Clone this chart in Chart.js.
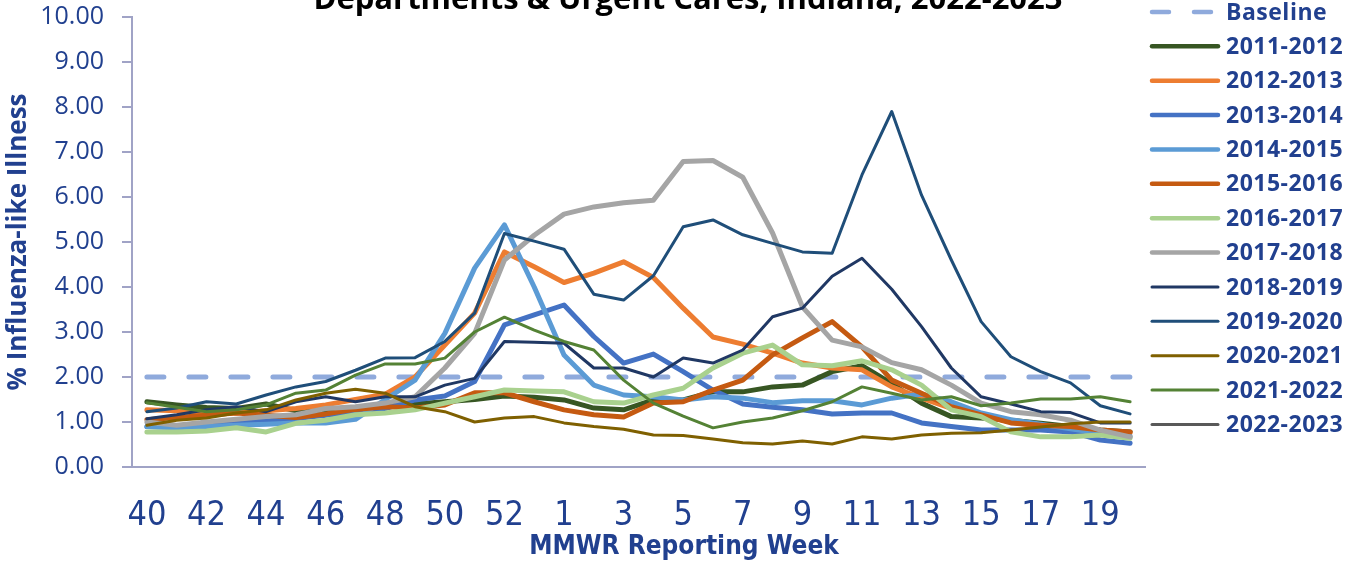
<!DOCTYPE html>
<html>
<head>
<meta charset="utf-8">
<script src="https://cdn.jsdelivr.net/npm/chart.js@4"></script>
<style>
    html, body { margin: 0; padding: 0; background: #ffffff; }
    #box { width: 1345px; height: 562px; position: relative; }
</style>
</head>
<body>
<div id="box"><canvas id="grafico"></canvas></div>
<script>
// semanas MMWR (40..53, depois 1..20)
const weeks = ['40', '41', '42', '43', '44', '45', '46', '47', '48', '49', '50', '51', '52', '53',
    '1', '2', '3', '4', '5', '6', '7', '8', '9', '10', '11', '12', '13', '14', '15', '16', '17', '18', '19', '20']

const yTicks = [0, 1, 2, 3, 4, 5, 6, 7, 8, 9, 10]

const baseline = [2.00, 2.00, 2.00, 2.00, 2.00, 2.00, 2.00, 2.00, 2.00, 2.00, 2.00, 2.00, 2.00, 2.00, 2.00, 2.00, 2.00,
    2.00, 2.00, 2.00, 2.00, 2.00, 2.00, 2.00, 2.00, 2.00, 2.00, 2.00, 2.00, 2.00, 2.00, 2.00, 2.00, 2.00]
const s2011 = [1.45, 1.38, 1.32, 1.30, 1.40, 1.25, 1.25, 1.30, 1.38, 1.40, 1.45, 1.50, 1.58, 1.55, 1.49, 1.31, 1.27,
    1.49, 1.49, 1.67, 1.67, 1.78, 1.82, 2.12, 2.25, 1.85, 1.42, 1.12, 1.09, 1.04, 0.97, 0.90, 0.82, 0.78]
const s2012 = [1.27, 1.25, 1.22, 1.20, 1.25, 1.30, 1.38, 1.50, 1.62, 2.00, 2.71, 3.42, 4.78, 4.45, 4.10, 4.31, 4.56,
    4.21, 3.53, 2.89, 2.73, 2.53, 2.31, 2.20, 2.16, 1.78, 1.53, 1.30, 1.15, 1.00, 0.90, 0.82, 0.78, 0.75]
const s2013 = [0.90, 0.88, 0.92, 0.98, 1.02, 1.08, 1.15, 1.22, 1.30, 1.49, 1.58, 1.90, 3.16, 3.38, 3.60, 2.90, 2.31,
    2.51, 2.12, 1.71, 1.40, 1.33, 1.27, 1.18, 1.20, 1.20, 0.98, 0.90, 0.82, 0.82, 0.82, 0.78, 0.60, 0.53]
const s2014 = [0.90, 0.88, 0.90, 0.93, 0.95, 0.98, 0.98, 1.06, 1.50, 1.93, 2.97, 4.42, 5.38, 4.00, 2.49, 1.82, 1.60,
    1.56, 1.49, 1.56, 1.53, 1.43, 1.47, 1.47, 1.38, 1.53, 1.62, 1.45, 1.20, 1.05, 0.95, 0.85, 0.75, 0.68]
const s2015 = [1.05, 1.10, 1.15, 1.20, 1.15, 1.10, 1.18, 1.28, 1.34, 1.31, 1.38, 1.65, 1.65, 1.45, 1.27, 1.16, 1.11,
    1.42, 1.45, 1.71, 1.93, 2.49, 2.87, 3.23, 2.67, 1.93, 1.64, 1.34, 1.16, 0.98, 0.93, 0.90, 0.82, 0.78]
const s2016 = [0.78, 0.78, 0.80, 0.87, 0.78, 0.97, 1.04, 1.16, 1.20, 1.27, 1.42, 1.56, 1.71, 1.69, 1.67, 1.45, 1.42,
    1.60, 1.75, 2.20, 2.53, 2.71, 2.27, 2.25, 2.36, 2.16, 1.82, 1.27, 1.12, 0.78, 0.67, 0.67, 0.71, 0.64]
const s2017 = [1.00, 0.93, 1.00, 1.06, 1.12, 1.16, 1.30, 1.34, 1.42, 1.56, 2.20, 2.97, 4.60, 5.15, 5.62, 5.78, 5.87,
    5.93, 6.79, 6.81, 6.44, 5.20, 3.56, 2.82, 2.67, 2.32, 2.16, 1.82, 1.42, 1.23, 1.16, 1.04, 0.82, 0.67]
const s2018 = [1.07, 1.16, 1.27, 1.34, 1.23, 1.45, 1.56, 1.45, 1.56, 1.56, 1.82, 1.97, 2.79, 2.77, 2.75, 2.20, 2.20,
    2.00, 2.42, 2.31, 2.60, 3.34, 3.53, 4.24, 4.64, 3.95, 3.12, 2.20, 1.56, 1.40, 1.23, 1.21, 0.98, 0.98]
const s2019 = [1.23, 1.31, 1.45, 1.40, 1.60, 1.78, 1.90, 2.15, 2.42, 2.43, 2.79, 3.42, 5.19, 5.02, 4.84, 3.84, 3.71,
    4.25, 5.34, 5.49, 5.16, 4.97, 4.78, 4.75, 6.49, 7.90, 6.04, 4.60, 3.23, 2.45, 2.12, 1.87, 1.36, 1.18]
const s2020 = [0.93, 1.04, 1.09, 1.20, 1.27, 1.49, 1.64, 1.73, 1.64, 1.34, 1.23, 1.00, 1.09, 1.12, 0.98, 0.90, 0.84,
    0.71, 0.70, 0.62, 0.54, 0.51, 0.58, 0.51, 0.67, 0.62, 0.71, 0.75, 0.76, 0.82, 0.89, 0.96, 1.00, 1.00]
const s2021 = [1.43, 1.33, 1.23, 1.27, 1.38, 1.64, 1.71, 2.04, 2.29, 2.29, 2.42, 3.00, 3.33, 3.04, 2.79, 2.60, 1.93,
    1.42, 1.13, 0.87, 1.00, 1.09, 1.25, 1.45, 1.78, 1.64, 1.49, 1.56, 1.36, 1.42, 1.51, 1.51, 1.56, 1.45]
const s2022 = []   // temporada atual ainda sem dados no gráfico

const azulTexto = '#21408f'
const corEixo = '#a0a3c6'

function serie(label, data, cor, largura) {
    return {
        label: label,
        data: data,
        borderColor: cor,
        backgroundColor: cor,
        borderWidth: largura,
        pointRadius: 0,
        tension: 0,
        fill: false,
        borderJoinStyle: 'round',
        borderCapStyle: 'round',
    }
}

const datasets = [
    Object.assign(serie('Baseline', baseline, '#8faadc', 5), { borderDash: [17, 25] }),
    serie('2011-2012', s2011, '#375623', 5),
    serie('2012-2013', s2012, '#ed7d31', 5),
    serie('2013-2014', s2013, '#4472c4', 5),
    serie('2014-2015', s2014, '#5b9bd5', 5),
    serie('2015-2016', s2015, '#c55a11', 5),
    serie('2016-2017', s2016, '#a9d18e', 5),
    serie('2017-2018', s2017, '#a5a5a5', 5),
    serie('2018-2019', s2018, '#203864', 3),
    serie('2019-2020', s2019, '#1f4e79', 3),
    serie('2020-2021', s2020, '#7f6000', 3),
    serie('2021-2022', s2021, '#548235', 3),
    serie('2022-2023', s2022, '#595959', 3),
]
// como no Excel: a última série fica por cima
datasets.forEach((d, i) => { d.order = datasets.length - i })

// título cortado, legenda e título do eixo X
const textos = {
    id: 'textos',
    afterDraw(chart) {
        const ctx = chart.ctx
        ctx.save()

        ctx.fillStyle = '#000000'
        ctx.font = 'bold 31px "Open Sans"'
        ctx.textAlign = 'center'
        ctx.textBaseline = 'alphabetic'
        ctx.fillText('Departments & Urgent Cares, Indiana, 2022-2023', 688, 9)

        ctx.fillStyle = azulTexto
        ctx.font = 'bold 26px "Liberation Sans Narrow", "DejaVu Sans Condensed", "Open Sans"'
        ctx.textBaseline = 'middle'
        ctx.fillText('MMWR Reporting Week', 684, 547)

        ctx.textAlign = 'left'
        ctx.font = 'bold 23px "Open Sans"'
        ctx.letterSpacing = '0.5px'
        chart.data.datasets.forEach((d, i) => {
            const y = 12 + i * 34.37
            ctx.strokeStyle = d.borderColor
            ctx.lineWidth = d.borderWidth > 4 ? 4.5 : 3
            ctx.lineCap = 'round'
            ctx.setLineDash(d.borderDash || [])
            ctx.beginPath()
            ctx.moveTo(1152, y)
            ctx.lineTo(1218, y)
            ctx.stroke()
            ctx.setLineDash([])
            ctx.fillStyle = azulTexto
            ctx.fillText(d.label, 1226, y + 1)
        })
        ctx.restore()
    }
}

new Chart(document.getElementById('grafico').getContext('2d'), {
    type: 'line',
    data: { labels: weeks, datasets: datasets },
    options: {
        responsive: true,
        maintainAspectRatio: false,
        animation: false,
        events: [],
        layout: { padding: { top: 17, right: 200, bottom: 0, left: 0 } },
        plugins: { legend: { display: false }, tooltip: { enabled: false } },
        scales: {
            x: {
                offset: true,
                border: { color: corEixo, width: 2 },
                grid: { display: false, drawTicks: false },
                afterFit: s => { s.height = 95 },
                ticks: {
                    autoSkip: false,
                    maxRotation: 0,
                    padding: 29,
                    color: azulTexto,
                    font: { family: '"Liberation Sans Narrow", "DejaVu Sans Condensed", "Open Sans"', size: 34 },
                    callback: (v, i) => i % 2 === 0 ? weeks[i] : ''
                }
            },
            y: {
                min: 0,
                max: 10,
                border: { color: corEixo, width: 2 },
                grid: { drawOnChartArea: false, drawTicks: true, tickLength: 10, color: corEixo, lineWidth: 2 },
                afterFit: s => {
                    s.width = 132
                    s.paddingTop = 0
                    s.paddingBottom = 0
                },
                afterBuildTicks: s => { s.ticks = yTicks.map(v => ({ value: v })) },
                ticks: {
                    padding: 18,
                    color: azulTexto,
                    font: { family: '"Open Sans"', size: 25 },
                    callback: v => v.toFixed(2)
                },
                title: {
                    display: true,
                    text: '% Influenza-like Illness',
                    color: azulTexto,
                    font: { family: '"Open Sans"', size: 26, weight: 'bold' },
                    padding: { top: 3, bottom: 0 }
                }
            }
        }
    },
    plugins: [textos]
})
</script>
</body>
</html>
